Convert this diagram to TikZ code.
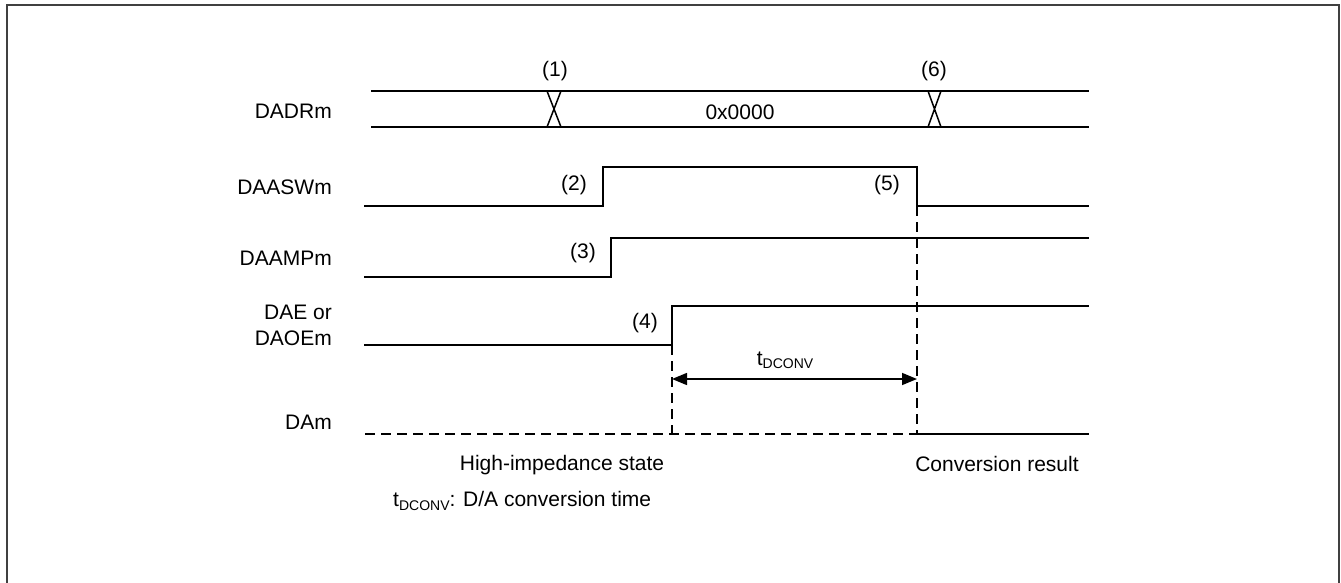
\documentclass[tikz,border=0pt]{standalone}
\usepackage{fontspec}
\setmainfont{Liberation Sans}
\usetikzlibrary{arrows.meta}
\begin{document}
\begin{tikzpicture}[x=1pt,y=-1pt,
  sig/.style={line width=1.8pt,line cap=rect},
  dsh/.style={line width=2pt,dash pattern=on 10pt off 6pt},
  lbl/.style={font=\fontsize{21}{23}\selectfont,inner sep=0pt},
  signame/.style={lbl,anchor=east,align=right},
  dim/.style={line width=1.5pt,{Triangle[length=15pt,width=12pt]}-{Triangle[length=15pt,width=12pt]}}]
\useasboundingbox (0,0) rectangle (1341,583);
\draw[line width=2.2pt,black!75] (7,5) rectangle (1339,620);
\newcommand{\sub}[1]{\raisebox{-0.15em}{\fontsize{14}{15}\selectfont #1}}
% signal names
\node[signame] (nDADR) at (332,111) {DADRm};
\node[signame] (nASW) at (332,187) {DAASWm};
\node[signame] (nAMP) at (332,258) {DAAMPm};
\node[signame,font=\fontsize{21}{26}\selectfont] (nDAE) at (332,325) {DAE or\\DAOEm};
\node[signame] (nDA) at (332,422) {DAm};
% DADRm bus
\coordinate (b0t) at (372,91); \coordinate (b0b) at (372,127);
\coordinate (b1t) at (1088,91); \coordinate (b1b) at (1088,127);
\draw[sig] (b0t) -- (b1t);
\draw[sig] (b0b) -- (b1b);
\draw[line width=1.5pt] (547,91) -- (561,127) (561,91) -- (547,127);
\draw[line width=1.5pt] (928,91) -- (941,127) (941,91) -- (928,127);
\node[lbl] (l1) at (555,71) {(1)};
\node[lbl] (l6) at (934,71) {(6)};
\node[lbl] (v0) at (740,112) {0x0000};
% DAASWm
\coordinate (s0) at (365,206); \coordinate (s1) at (603,206);
\coordinate (s2) at (603,167); \coordinate (s3) at (917,167);
\coordinate (s4) at (917,206); \coordinate (s5) at (1088,206);
\draw[sig] (s0) -- (s1) -- (s2) -- (s3) -- (s4) -- (s5);
\node[lbl] (l2) at (574,185) {(2)};
\node[lbl] (l5) at (887,185) {(5)};
% DAAMPm
\coordinate (a0) at (365,277); \coordinate (a1) at (611,277);
\coordinate (a2) at (611,238); \coordinate (a3) at (1088,238);
\draw[sig] (a0) -- (a1) -- (a2) -- (a3);
\node[lbl] (l3) at (583,253) {(3)};
% DAE
\coordinate (e0) at (365,345); \coordinate (e1) at (672,345);
\coordinate (e2) at (672,306); \coordinate (e3) at (1088,306);
\draw[sig] (e0) -- (e1) -- (e2) -- (e3);
\node[lbl] (l4) at (645,323) {(4)};
% DAm
\coordinate (d0) at (365,434); \coordinate (d1) at (672,434);
\coordinate (d2) at (917,434); \coordinate (d3) at (1088,434);
\draw[dsh] (d0) -- (d1) -- (d2);
\draw[sig] (d2) -- (d3);
\draw[dsh] (e1) -- (d1);
\draw[dsh] (s4) -- (d2);
% tDCONV
\coordinate (t0) at (672,379); \coordinate (t1) at (917,379);
\draw[dim] (t0) -- (t1);
\node[lbl] (tl) at (785,360) {t\sub{DCONV}};
% bottom labels
\node[lbl] (hi) at (562,465) {High-impedance state};
\node[lbl] (cr) at (997,464) {Conversion result};
\node[lbl,anchor=west] (fn) at (393,501) {t\sub{DCONV}: D/A conversion time};
\end{tikzpicture}
\end{document}
